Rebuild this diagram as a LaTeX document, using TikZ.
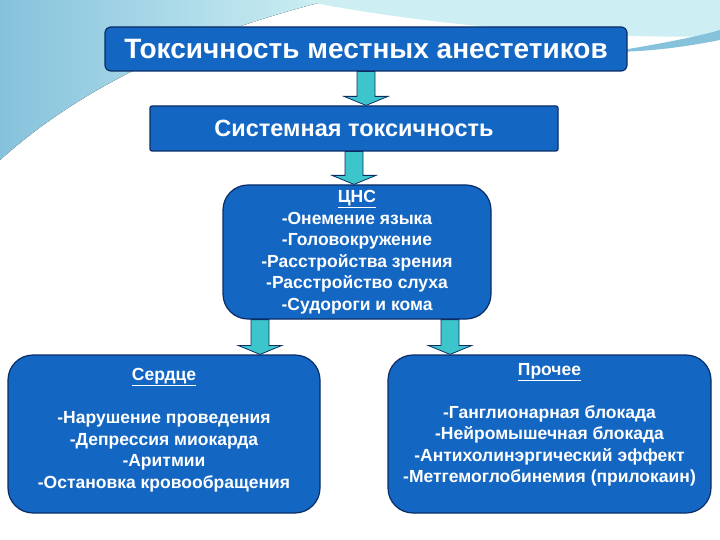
\documentclass[tikz,border=0pt]{standalone}
\usepackage{fontspec}
\setmainfont{Liberation Sans}
\usetikzlibrary{calc}
\definecolor{boxblue}{HTML}{1466C3}
\definecolor{boxedge}{HTML}{0B2D66}
\definecolor{arrowcyan}{HTML}{3CC6CC}
\definecolor{skyblue}{HTML}{86C2DC}
\definecolor{skylight}{HTML}{CDEFF3}
\newcommand\blkarrow[2]{%
  \draw[blkarrow] let \p1=(#1), \p2=(#2) in
    (\x1-9pt,\y1) -- (\x1+9pt,\y1) -- (\x1+9pt,\y2+9pt) -- (\x1+22pt,\y2+9pt)
    -- (\x1,\y2) -- (\x1-22pt,\y2+9pt) -- (\x1-9pt,\y2+9pt) -- cycle;}

\begin{document}
\begin{tikzpicture}[x=1pt,y=-1pt,
    box/.style={draw=boxedge,line width=1.2pt,fill=boxblue,text=white,
      font=\bfseries,align=center,inner sep=2pt},
    itembox/.style={box,rounded corners=25pt,
      font=\bfseries\fontsize{17.5}{21.5}\selectfont},
    blkarrow/.style={draw=boxedge,line width=0.8pt,fill=arrowcyan}]
  \useasboundingbox (0,0) rectangle (720,540);
  % slide background
  \fill[left color=skyblue,right color=skylight] (0,0) -- (330,0)
    .. controls (230,25) and (100,70) .. (0,160) -- cycle;
  \fill[skylight] (300,0) -- (720,0) -- (720,36)
    .. controls (600,40) and (420,25) .. (300,0) -- cycle;
  \fill[skyblue] (610,52) .. controls (660,44) and (700,36) .. (720,30)
    -- (720,40) .. controls (690,46) and (650,52) .. (610,52) -- cycle;

  \node[box,rounded corners=6pt,minimum width=522,minimum height=44,
    font=\bfseries\fontsize{28}{32}\selectfont] (title) at (366,49)
    {Токсичность местных анестетиков};
  \node[box,rounded corners=2pt,minimum width=408,minimum height=45,
    font=\bfseries\fontsize{23.5}{27}\selectfont] (sys) at (354,128.5)
    {Системная токсичность};
  \node[itembox,minimum width=268,minimum height=134] (cns) at (357,252)
    {\underline{ЦНС}\\-Онемение языка\\-Головокружение\\-Расстройства зрения\\
     -Расстройство слуха\\-Судороги и кома};
  \node[itembox,minimum width=312,minimum height=158] (heart) at (164,434)
    {\underline{Сердце}\\[21.5pt]-Нарушение проведения\\-Депрессия миокарда\\
     -Аритмии\\-Остановка кровообращения\\[-10pt]};
  \node[itembox,minimum width=323,minimum height=158] (other) at (549.5,434)
    {\underline{Прочее}\\[21.5pt]-Ганглионарная блокада\\-Нейромышечная блокада\\
     -Антихолинэргический эффект\\-Метгемоглобинемия (прилокаин)\\[1pt]};

  \blkarrow{title.south}{sys.north}
  \blkarrow{sys.south}{cns.north}
  \blkarrow{[xshift=-97pt]cns.south}{heart.north}
  \blkarrow{[xshift=93pt]cns.south}{other.north}
\end{tikzpicture}
\end{document}
